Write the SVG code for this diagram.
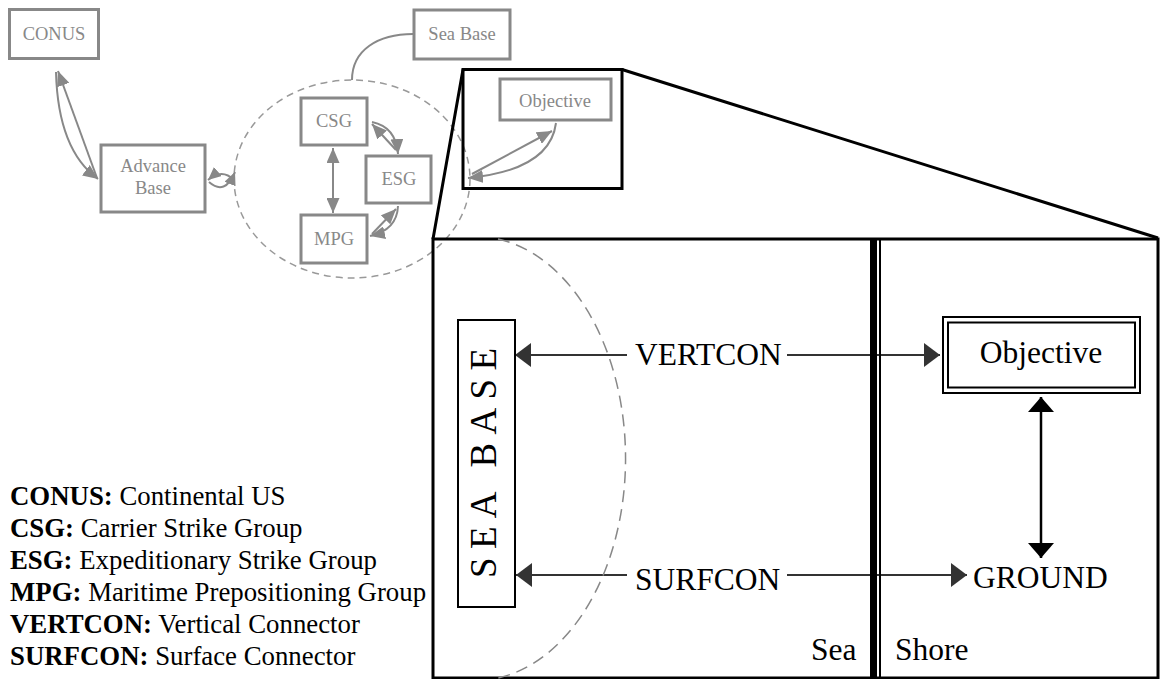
<svg xmlns="http://www.w3.org/2000/svg" width="1160" height="679" viewBox="0 0 1160 679">
<defs>
<style>
.gbox{fill:#fff;stroke:#888;stroke-width:3}
.gtxt{font-family:"Liberation Serif",serif;font-size:18.5px;fill:#888;text-anchor:middle}
.gline{fill:none;stroke:#888;stroke-width:2}
.big{font-family:"Liberation Serif",serif;font-size:31.5px;fill:#000}
.leg{font-family:"Liberation Serif",serif;font-size:26.8px;fill:#000}
.dk{fill:none;stroke:#333;stroke-width:2}
.blk{fill:none;stroke:#000;stroke-width:3}
</style>
<marker id="ga" viewBox="0 0 15 13" refX="15" refY="6.5" markerWidth="15" markerHeight="13" markerUnits="userSpaceOnUse" orient="auto-start-reverse"><path d="M0,0 L15,6.5 L0,13 z" fill="#888"/></marker>
<marker id="gs" viewBox="0 0 13 12" refX="13" refY="6" markerWidth="13" markerHeight="12" markerUnits="userSpaceOnUse" orient="auto-start-reverse"><path d="M0,0 L13,6 L0,12 z" fill="#888"/></marker>
<marker id="da" viewBox="0 0 16 24" refX="16" refY="12" markerWidth="16" markerHeight="24" markerUnits="userSpaceOnUse" orient="auto-start-reverse"><path d="M0,0 L16,12 L0,24 z" fill="#333"/></marker>
<marker id="ba" viewBox="0 0 15 26" refX="15" refY="13" markerWidth="15" markerHeight="26" markerUnits="userSpaceOnUse" orient="auto-start-reverse"><path d="M0,0 L15,13 L0,26 z" fill="#000"/></marker>
</defs>
<rect width="1160" height="679" fill="#fff"/>

<!-- dashed sea base cluster -->
<ellipse cx="352" cy="179" rx="118" ry="99" fill="none" stroke="#999" stroke-width="1.5" stroke-dasharray="7,5"/>

<g id="connectors">
<path class="gline" d="M413 34 C378 34 352 50 352 80"/>
<path class="gline" d="M97 178 L58 71" marker-end="url(#ga)"/>
<path class="gline" d="M56 72 Q58 150 98 179" marker-end="url(#ga)"/>
<path class="gline" d="M234 180 Q222 168 208 180" marker-end="url(#gs)"/>
<path class="gline" d="M209 182 Q225 196 235 172" marker-end="url(#gs)"/>
<path class="gline" d="M333 148 L333 213" marker-start="url(#ga)" marker-end="url(#ga)"/>
<path class="gline" d="M396 150 L372 124" marker-end="url(#ga)"/>
<path class="gline" d="M372 122 Q396 127 398 154" marker-end="url(#ga)"/>
<path class="gline" d="M372 234 L396 209" marker-end="url(#ga)"/>
<path class="gline" d="M398 206 Q397 230 370 236" marker-end="url(#ga)"/>
<path class="gline" d="M472 174 L552 131" marker-end="url(#ga)"/>
<path class="gline" d="M556 123 Q550 170 468 178" marker-end="url(#ga)"/>
<path class="dk" d="M627 355 L515 355" marker-end="url(#da)"/>
<path class="dk" d="M787 355 L940 355" marker-end="url(#da)"/>
<path class="dk" d="M627 575 L516 575" marker-end="url(#da)"/>
<path class="dk" d="M787 575 L967 575" marker-end="url(#da)"/>
<path fill="none" stroke="#000" stroke-width="2.5" d="M1041 397 L1041 558" marker-start="url(#ba)" marker-end="url(#ba)"/>
</g>

<g id="conus"><rect class="gbox" x="9.5" y="9.5" width="89" height="49"/><text class="gtxt" x="54" y="40">CONUS</text></g>
<g id="advance-base"><rect class="gbox" x="101" y="145" width="104" height="67"/><text class="gtxt" x="153" y="172">Advance</text><text class="gtxt" x="153" y="194">Base</text></g>
<g id="sea-base-small"><rect class="gbox" x="414" y="10" width="96" height="49"/><text class="gtxt" x="462" y="40">Sea Base</text></g>
<g id="csg"><rect class="gbox" x="301" y="98" width="66" height="47"/><text class="gtxt" x="334" y="127">CSG</text></g>
<g id="esg"><rect class="gbox" x="366" y="156" width="65" height="47"/><text class="gtxt" x="399" y="185">ESG</text></g>
<g id="mpg"><rect class="gbox" x="301" y="215" width="66" height="48"/><text class="gtxt" x="334" y="245">MPG</text></g>
<g id="objective-small"><rect class="gbox" x="500" y="79" width="111" height="41"/><text class="gtxt" x="555" y="107">Objective</text></g>

<!-- zoom frame -->
<g id="zoom-frame">
<rect class="blk" x="463" y="69.5" width="159" height="119"/>
<path class="blk" d="M463 69.5 L433 239 M622 69.5 L1158 238"/>
<rect class="blk" x="433" y="239" width="725" height="439"/>
<rect x="870" y="239" width="7" height="439" fill="#000"/>
<line x1="880" y1="239" x2="880" y2="678" stroke="#000" stroke-width="2"/>
</g>

<path d="M498 239 A150 222 0 0 1 498 678" fill="none" stroke="#888" stroke-width="1.5" stroke-dasharray="12,7"/>

<g id="sea-base-big">
<rect x="458" y="320" width="57" height="287" fill="#fff" stroke="#000" stroke-width="2"/>
<text transform="translate(496,463) rotate(-90)" x="0" y="0" style="font-family:'Liberation Serif',serif;font-size:37px;fill:#000" text-anchor="middle" textLength="230" lengthAdjust="spacing">SEA BASE</text>
</g>
<g id="objective-big">
<rect x="943" y="317" width="197" height="76" fill="#fff" stroke="#000" stroke-width="2"/>
<rect x="948" y="322.5" width="187" height="65" fill="none" stroke="#000" stroke-width="2"/>
<text class="big" x="1041" y="363" text-anchor="middle">Objective</text>
</g>
<g id="ground"><text class="big" x="973" y="588">GROUND</text></g>
<g id="vertcon"><text class="big" x="635" y="365">VERTCON</text></g>
<g id="surfcon"><text class="big" x="635" y="590">SURFCON</text></g>
<text class="big" x="811" y="660">Sea</text>
<text class="big" x="895" y="660">Shore</text>

<g id="legend">
<text class="leg" x="10" y="505"><tspan font-weight="bold">CONUS:</tspan> Continental US</text>
<text class="leg" x="10" y="537"><tspan font-weight="bold">CSG:</tspan> Carrier Strike Group</text>
<text class="leg" x="10" y="569"><tspan font-weight="bold">ESG:</tspan> Expeditionary Strike Group</text>
<text class="leg" x="10" y="601"><tspan font-weight="bold">MPG:</tspan> Maritime Prepositioning Group</text>
<text class="leg" x="10" y="633"><tspan font-weight="bold">VERTCON:</tspan> Vertical Connector</text>
<text class="leg" x="10" y="665"><tspan font-weight="bold">SURFCON:</tspan> Surface Connector</text>
</g>
</svg>
